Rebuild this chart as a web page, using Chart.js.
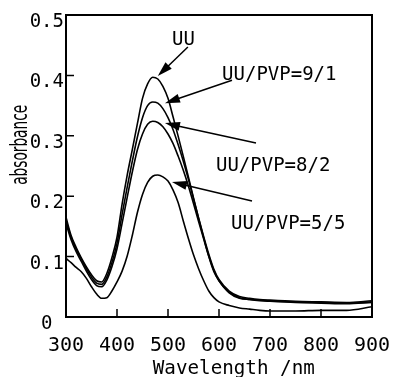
<!DOCTYPE html>
<html><head><meta charset="utf-8">
<script src="https://cdn.jsdelivr.net/npm/chart.js@4.4.0/dist/chart.umd.min.js"></script>
<style>html,body{margin:0;padding:0;background:#fff;overflow:hidden}</style>
</head><body>
<canvas id="c" width="395" height="377"></canvas>
<script>
// ---- data ----
const wavelength = [300,310,320,330,340,350,360,370,380,390,400,410,420,430,440,450,460,470,480,490,500,510,520,530,540,550,560,570,580,590,600,620,640,660,680,700,750,800,850,900];
const absUU  = [0.165,0.135,0.115,0.098,0.083,0.070,0.060,0.058,0.072,0.098,0.132,0.187,0.235,0.277,0.320,0.362,0.386,0.397,0.394,0.382,0.362,0.331,0.299,0.266,0.232,0.197,0.163,0.131,0.100,0.075,0.060,0.040,0.031,0.029,0.028,0.027,0.025,0.024,0.023,0.025];
const abs91  = [0.160,0.132,0.112,0.096,0.080,0.066,0.056,0.054,0.066,0.090,0.122,0.170,0.215,0.258,0.298,0.330,0.350,0.356,0.354,0.345,0.330,0.310,0.285,0.258,0.228,0.196,0.164,0.133,0.104,0.079,0.062,0.043,0.034,0.031,0.029,0.028,0.026,0.025,0.024,0.027];
const abs82  = [0.155,0.128,0.108,0.092,0.076,0.062,0.052,0.050,0.061,0.083,0.113,0.155,0.198,0.240,0.277,0.303,0.319,0.324,0.322,0.315,0.303,0.287,0.266,0.243,0.217,0.188,0.158,0.129,0.101,0.077,0.060,0.041,0.032,0.029,0.027,0.026,0.024,0.023,0.022,0.024];
const abs55  = [0.097,0.090,0.082,0.075,0.064,0.050,0.038,0.031,0.032,0.043,0.058,0.076,0.101,0.135,0.173,0.203,0.223,0.233,0.235,0.232,0.225,0.210,0.189,0.159,0.130,0.103,0.080,0.060,0.043,0.032,0.025,0.019,0.015,0.013,0.011,0.010,0.010,0.011,0.011,0.017];
const xTickLabels = ['300','400','500','600','700','800','900'];
const yTickLabels = ['0 ','0.1','0.2','0.3','0.4','0.5'];
const seriesNames = ['UU','UU/PVP=9/1','UU/PVP=8/2','UU/PVP=5/5'];
const xTitle = 'Wavelength /nm';
const yTitle = 'absorbance';

// annotation anchors in data units: label (left, baseline), arrow start, arrow tip
const labelAt   = [[508,0.450],[606,0.392],[594,0.242],[623.5,0.146]];
const arrowFrom = [[539,0.447],[625.5,0.392],[672.5,0.288],[664.7,0.192]];
const arrowTo   = [[480,0.399],[494,0.354],[494,0.321],[507.8,0.2235]];

const MONO = '"DejaVu Sans Mono", "Liberation Mono", monospace';

const series = [absUU, abs91, abs82, abs55];
const datasets = series.map((arr, k) => ({
  label: seriesNames[k],
  data: wavelength.map((x, i) => ({x: x, y: arr[i]})),
  borderColor: '#000',
  borderWidth: 1.6,
  pointRadius: 0,
  fill: false,
  cubicInterpolationMode: 'monotone'
}));

const decor = {
  id: 'decor',
  afterDraw(chart) {
    const ctx = chart.ctx, a = chart.chartArea;
    const xs = chart.scales.x, ys = chart.scales.y;
    ctx.save();
    ctx.strokeStyle = '#000';
    ctx.fillStyle = '#000';
    // frame
    ctx.lineWidth = 2;
    ctx.strokeRect(a.left, a.top, a.right - a.left, a.bottom - a.top);
    // inward tick marks
    ctx.lineWidth = 1.5;
    ctx.beginPath();
    xs.ticks.forEach(t => {
      const px = xs.getPixelForValue(t.value);
      ctx.moveTo(px, a.bottom); ctx.lineTo(px, a.bottom - 8);
    });
    ys.ticks.forEach(t => {
      const py = ys.getPixelForValue(t.value);
      ctx.moveTo(a.left, py); ctx.lineTo(a.left + 8, py);
    });
    ctx.stroke();
    // x title
    ctx.font = '20px ' + MONO;
    ctx.textAlign = 'center';
    ctx.textBaseline = 'alphabetic';
    let w = ctx.measureText(xTitle).width;
    ctx.save();
    ctx.translate(xs.getPixelForValue(629), a.bottom + 57);
    ctx.scale(162 / w, 1);
    ctx.fillText(xTitle, 0, 0);
    ctx.restore();
    // y title
    ctx.font = '23px "DejaVu Sans", sans-serif';
    w = ctx.measureText(yTitle).width;
    ctx.save();
    ctx.translate(a.left - 39, ys.getPixelForValue(0.285));
    ctx.rotate(-Math.PI / 2);
    ctx.scale(80 / w, 1);
    ctx.fillText(yTitle, 0, 0);
    ctx.restore();
    // annotations
    ctx.font = '19px ' + MONO;
    ctx.textAlign = 'left';
    seriesNames.forEach((name, k) => {
      ctx.fillText(name, xs.getPixelForValue(labelAt[k][0]), ys.getPixelForValue(labelAt[k][1]));
      const x0 = xs.getPixelForValue(arrowFrom[k][0]), y0 = ys.getPixelForValue(arrowFrom[k][1]);
      const x1 = xs.getPixelForValue(arrowTo[k][0]), y1 = ys.getPixelForValue(arrowTo[k][1]);
      const ang = Math.atan2(y1 - y0, x1 - x0);
      const hl = 15, hw = 4.5;
      ctx.lineWidth = 1.5;
      ctx.beginPath();
      ctx.moveTo(x0, y0);
      ctx.lineTo(x1 - Math.cos(ang) * hl * 0.8, y1 - Math.sin(ang) * hl * 0.8);
      ctx.stroke();
      ctx.beginPath();
      ctx.moveTo(x1, y1);
      ctx.lineTo(x1 - Math.cos(ang) * hl - Math.sin(ang) * hw, y1 - Math.sin(ang) * hl + Math.cos(ang) * hw);
      ctx.lineTo(x1 - Math.cos(ang) * hl + Math.sin(ang) * hw, y1 - Math.sin(ang) * hl - Math.cos(ang) * hw);
      ctx.closePath();
      ctx.fill();
    });
    ctx.restore();
  }
};

new Chart(document.getElementById('c'), {
  type: 'line',
  data: { datasets: datasets },
  options: {
    responsive: false,
    animation: false,
    devicePixelRatio: 1,
    layout: { padding: { left: 0, right: 23, top: 15, bottom: 0 } },
    plugins: { legend: { display: false }, tooltip: { enabled: false } },
    scales: {
      x: {
        type: 'linear', min: 300, max: 900,
        grid: { drawOnChartArea: false, drawTicks: true, tickLength: 15, tickColor: 'rgba(0,0,0,0)' },
        border: { display: false },
        ticks: {
          stepSize: 100, color: '#000', padding: 2, maxRotation: 0,
          font: { family: MONO, size: 20 },
          callback: (v, i) => xTickLabels[i]
        },
        afterFit: s => { s.height = 60; }
      },
      y: {
        type: 'linear', min: 0, max: 0.5,
        grid: { display: false, drawTicks: false },
        border: { display: false },
        ticks: {
          stepSize: 0.1, color: '#000', padding: 2, labelOffset: 7,
          font: { family: MONO, size: 19 },
          callback: (v, i) => yTickLabels[i]
        },
        afterFit: s => { s.width = 66; }
      }
    }
  },
  plugins: [decor]
});
</script>
</body></html>
